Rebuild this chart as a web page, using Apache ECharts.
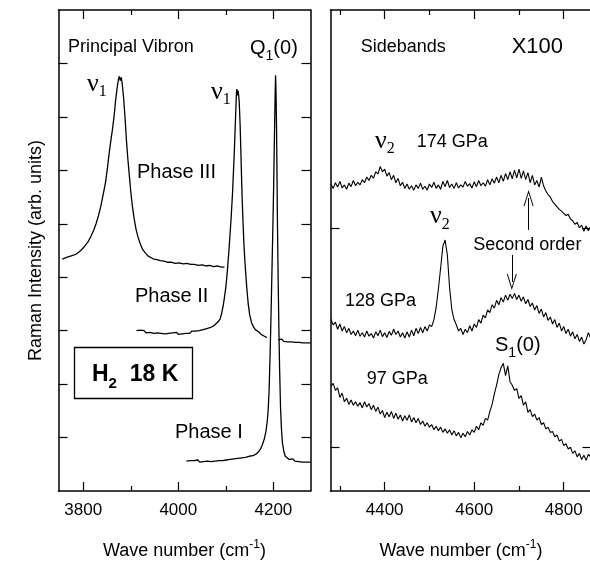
<!DOCTYPE html>
<html><head><meta charset="utf-8">
<script src="https://cdn.jsdelivr.net/npm/echarts@6/dist/echarts.min.js"></script>
<style>html,body{margin:0;padding:0;background:#fff}#c{width:590px;height:561px}</style>
</head><body><div id="c"></div><script>
// ---------- DATA ----------
const leftRange = [3748, 4278];
const rightRange = [4279, 4862];
const leftTicksMajor = [3800, 4000, 4200];
const leftTicksMinor = [3900, 4100];
const rightTicksMajor = [4400, 4600, 4800];
const rightTicksMinor = [4300, 4500, 4700];
const leftYTicks = [1, 2, 3, 4, 5, 6, 7, 8];
const rightYTicks = [1, 6];

const phase3 = [[3756,4.34],[3765,4.37],[3775,4.40],[3785,4.43],[3795,4.50],[3803,4.58],[3810,4.66],[3816,4.76],[3822,4.88],[3827,5.00],[3832,5.15],[3837,5.33],[3842,5.55],[3847,5.78],[3851,6.05],[3855,6.35],[3858,6.55],[3862,6.80],[3865,7.02],[3868,7.30],[3871,7.52],[3874,7.70],[3876,7.76],[3878,7.68],[3880,7.74],[3882,7.62],[3885,7.35],[3888,6.98],[3891,6.55],[3894,6.20],[3897,5.90],[3900,5.60],[3903,5.36],[3907,5.10],[3911,4.90],[3915,4.76],[3920,4.62],[3925,4.52],[3930,4.46],[3936,4.40],[3942,4.37],[3948,4.34],[3955,4.33],[3962,4.31],[3970,4.30],[3978,4.28],[3986,4.28],[3994,4.26],[4002,4.27],[4010,4.25],[4018,4.26],[4026,4.24],[4034,4.24],[4042,4.22],[4050,4.23],[4058,4.21],[4066,4.22],[4074,4.20],[4082,4.21],[4090,4.19],[4097,4.19]];

const phase2 = [[3912,3.00],[3916,2.97],[3920,3.01],[3924,2.98],[3928,3.00],[3932,2.96],[3936,2.99],[3940,2.97],[3944,3.00],[3948,2.95],[3952,2.98],[3956,2.96],[3960,2.99],[3964,2.95],[3968,2.97],[3972,2.94],[3976,2.97],[3980,2.95],[3984,2.93],[3988,2.96],[3992,2.94],[3996,2.97],[4000,2.93],[4004,2.96],[4008,2.94],[4012,2.97],[4016,2.95],[4020,2.98],[4024,2.95],[4028,2.99],[4032,2.96],[4036,2.99],[4040,2.97],[4044,3.00],[4048,2.98],[4052,3.02],[4056,3.00],[4060,3.04],[4064,3.03],[4068,3.06],[4072,3.05],[4076,3.10],[4080,3.12],[4084,3.17],[4088,3.22],[4091,3.32],[4094,3.45],[4097,3.62],[4100,3.82],[4103,4.10],[4106,4.45],[4108,4.70],[4111,5.10],[4114,5.57],[4116,5.98],[4118,6.40],[4120,6.90],[4122,7.40],[4123,7.52],[4125,7.40],[4126,7.49],[4128,7.30],[4130,6.85],[4132,6.20],[4134,5.55],[4136,5.05],[4138,4.62],[4140,4.30],[4142,4.05],[4144,3.80],[4147,3.50],[4150,3.30],[4154,3.15],[4158,3.07],[4162,3.02],[4166,2.99],[4170,2.97],[4174,2.93],[4178,2.94],[4182,2.89],[4186,2.87],[4198,'-'],[4210,2.83],[4214,2.80],[4218,2.84],[4222,2.80],[4226,2.83],[4230,2.79],[4234,2.82],[4238,2.79],[4242,2.81],[4246,2.78],[4250,2.81],[4254,2.78],[4258,2.80],[4262,2.77],[4266,2.80],[4270,2.77],[4274,2.79],[4278,2.77]];

const phase1 = [[4017,0.56],[4021,0.53],[4025,0.57],[4029,0.54],[4033,0.57],[4037,0.55],[4041,0.58],[4045,0.54],[4049,0.57],[4053,0.55],[4057,0.58],[4061,0.56],[4065,0.59],[4069,0.55],[4073,0.58],[4077,0.56],[4081,0.59],[4085,0.57],[4089,0.60],[4093,0.57],[4097,0.60],[4101,0.58],[4105,0.61],[4109,0.59],[4113,0.62],[4117,0.60],[4121,0.63],[4125,0.61],[4129,0.64],[4133,0.62],[4137,0.65],[4141,0.63],[4145,0.66],[4149,0.65],[4153,0.67],[4157,0.66],[4161,0.68],[4165,0.70],[4169,0.74],[4173,0.79],[4177,0.87],[4181,0.98],[4184,1.10],[4187,1.30],[4189,1.52],[4191,1.90],[4193,2.55],[4195,3.30],[4197,4.15],[4199,5.00],[4200.5,5.70],[4202,6.55],[4203.5,7.35],[4204.5,7.78],[4205.5,7.45],[4206.5,6.85],[4207.5,5.95],[4208.5,5.00],[4210,3.95],[4211.5,3.05],[4213,2.30],[4215,1.55],[4217,1.15],[4219,0.90],[4222,0.74],[4225,0.65],[4229,0.62],[4233,0.59],[4237,0.57],[4241,0.60],[4245,0.56],[4249,0.58],[4253,0.55],[4257,0.57],[4261,0.54],[4265,0.57],[4269,0.54],[4273,0.56],[4278,0.54]];

const sideX = [4280,4285,4290,4295,4300,4305,4310,4315,4320,4325,4330,4335,4340,4345,4350,4355,4360,4365,4370,4375,4380,4385,4390,4395,4400,4405,4410,4415,4420,4425,4430,4435,4440,4445,4450,4455,4460,4465,4470,4475,4480,4485,4490,4495,4500,4505,4510,4515,4520,4525,4530,4535,4540,4545,4550,4555,4560,4565,4570,4575,4580,4585,4590,4595,4600,4605,4610,4615,4620,4625,4630,4635,4640,4645,4650,4655,4660,4665,4670,4675,4680,4685,4690,4695,4700,4705,4710,4715,4720,4725,4730,4735,4740,4745,4750,4755,4760,4765,4770,4775,4780,4785,4790,4795,4800,4805,4810,4815,4820,4825,4830,4835,4840,4845,4850,4855,4860];

const gpa174 = [7.02,6.92,7.05,6.95,7.08,6.93,7.00,6.90,7.04,6.96,7.10,6.98,7.06,7.00,7.12,7.05,7.18,7.10,7.22,7.15,7.30,7.25,7.42,7.30,7.36,7.20,7.28,7.12,7.22,7.05,7.15,6.98,7.06,6.92,7.02,6.90,6.98,6.88,7.00,6.92,7.04,6.90,6.97,6.88,7.02,6.94,7.06,6.92,7.00,6.90,7.08,6.96,7.10,6.94,7.02,6.92,7.05,6.93,7.00,6.95,7.08,6.97,7.03,6.93,7.07,6.96,7.10,6.98,7.05,6.97,7.12,7.00,7.14,7.04,7.18,7.05,7.22,7.08,7.26,7.12,7.30,7.14,7.34,7.16,7.36,7.15,7.32,7.12,7.28,7.05,7.22,7.00,7.10,6.95,7.18,6.98,6.86,6.78,6.72,6.62,6.56,6.50,6.44,6.40,6.35,6.30,6.33,6.22,6.18,6.10,6.14,6.02,6.08,5.94,6.06,5.95,6.05];

const gpa128 = [3.92,3.80,3.86,3.70,3.82,3.66,3.76,3.62,3.72,3.58,3.66,3.55,3.68,3.54,3.62,3.52,3.66,3.54,3.60,3.50,3.64,3.55,3.68,3.53,3.62,3.51,3.65,3.56,3.70,3.58,3.66,3.52,3.62,3.50,3.64,3.52,3.68,3.55,3.72,3.60,3.74,3.62,3.76,3.66,3.80,3.76,3.92,4.20,4.62,5.10,5.60,5.74,5.40,4.65,4.15,3.92,3.80,3.66,3.72,3.58,3.70,3.62,3.78,3.66,3.82,3.74,3.92,3.84,4.02,3.96,4.14,4.08,4.26,4.18,4.36,4.26,4.42,4.32,4.48,4.36,4.50,4.40,4.52,4.38,4.48,4.34,4.44,4.28,4.38,4.22,4.30,4.14,4.24,4.06,4.16,3.98,4.08,3.90,3.98,3.82,3.92,3.74,3.84,3.66,3.76,3.60,3.70,3.54,3.64,3.48,3.58,3.42,3.52,3.36,3.46,3.62,3.50];

const gpa97 = [2.40,2.46,2.30,2.36,2.14,2.24,2.04,2.12,1.98,2.08,1.96,2.04,1.94,2.02,1.90,2.04,1.92,2.00,1.86,1.96,1.82,1.92,1.76,1.84,1.68,1.80,1.70,1.82,1.66,1.78,1.64,1.74,1.60,1.72,1.62,1.74,1.58,1.68,1.56,1.66,1.52,1.60,1.48,1.56,1.46,1.52,1.40,1.48,1.38,1.46,1.34,1.42,1.32,1.40,1.28,1.38,1.26,1.34,1.22,1.32,1.24,1.36,1.28,1.40,1.34,1.48,1.40,1.56,1.50,1.66,1.62,1.82,1.98,2.22,2.42,2.66,2.82,2.92,2.64,2.86,2.50,2.42,2.30,2.34,2.12,2.18,1.96,2.04,1.80,1.86,1.70,1.76,1.62,1.68,1.52,1.56,1.42,1.46,1.34,1.36,1.24,1.28,1.14,1.18,1.04,1.08,0.96,1.00,0.86,0.92,0.78,0.86,0.72,0.82,0.70,0.84,0.78];

// arrows "Second order": [wavenumber, y start, y end]
const arrow174 = [4721.5, 5.97, 6.70];
const arrow128 = [4684, 5.40, 4.78];

// ---------- CHART ----------
const chart = echarts.init(document.getElementById('c'), null, {renderer: 'canvas'});
const BLACK = '#000';
const SANS = 'Liberation Sans';
const SERIF = 'Liberation Serif';

const axisLineStyle = {color: BLACK, width: 1.5};
const tickStyle = {color: BLACK, width: 1.2};

function xAxesFor(grid, range, major, minor) {
  const base = {
    type: 'value', gridIndex: grid, min: range[0], max: range[1],
    splitLine: {show: false},
    axisLine: {show: true, onZero: false, lineStyle: axisLineStyle},
    axisTick: {show: true, inside: true, length: 9, lineStyle: tickStyle, customValues: major},
    axisLabel: {show: false}
  };
  const minorTick = {show: true, inside: true, length: 5, lineStyle: tickStyle, customValues: minor};
  return [
    Object.assign({}, base, {
      position: 'bottom',
      axisLabel: {show: true, customValues: major, margin: 11, color: BLACK, fontSize: 17, fontFamily: SANS,
        formatter: v => String(v)},
      name: '{a|Wave number (cm}{s|-1}{a|)}',
      nameLocation: 'middle', nameGap: 48,
      nameTextStyle: {rich: {
        a: {fontSize: 18, fontFamily: SANS, color: BLACK, lineHeight: 24},
        s: {fontSize: 12, fontFamily: SANS, color: BLACK, lineHeight: 12, verticalAlign: 'top'}
      }}
    }),
    Object.assign({}, base, {position: 'bottom', axisLine: {show: false, onZero: false}, axisTick: minorTick}),
    Object.assign({}, base, {position: 'top'}),
    Object.assign({}, base, {position: 'top', axisLine: {show: false, onZero: false}, axisTick: minorTick})
  ];
}

function yAxesFor(grid, min, max, ticks, withName) {
  const base = {
    type: 'value', gridIndex: grid, min: min, max: max,
    splitLine: {show: false},
    axisLine: {show: true, onZero: false, lineStyle: axisLineStyle},
    axisTick: {show: true, inside: true, length: 9, lineStyle: tickStyle, customValues: ticks},
    axisLabel: {show: false}
  };
  const left = Object.assign({}, base, {position: 'left'});
  if (withName) {
    Object.assign(left, {
      name: 'Raman Intensity (arb. units)', nameLocation: 'middle', nameGap: 13, nameRotate: 90,
      nameTextStyle: {fontSize: 18, fontFamily: SANS, color: BLACK}
    });
  }
  return [left, Object.assign({}, base, {position: 'right'})];
}

function lineSeries(data, xi, yi, width, extra) {
  return Object.assign({
    type: 'line', xAxisIndex: xi, yAxisIndex: yi, data: data,
    showSymbol: false, symbol: 'none', connectNulls: false,
    lineStyle: {color: BLACK, width: width}, silent: true, animation: false
  }, extra || {});
}

const arrowPath = 'path://M8,0 L13,16 L12,16 L8,3 L4,16 L3,16 Z M0,0 L0.01,0 Z M16,16 L15.99,16 Z';
function arrowMark(a) {
  return {
    silent: true, animation: false, symbol: ['none', arrowPath], symbolSize: 16,
    label: {show: false}, emphasis: {disabled: true},
    lineStyle: {color: BLACK, width: 1, type: 'solid'},
    data: [[{coord: [a[0], a[1]]}, {coord: [a[0], a[2]]}]]
  };
}

const zip = ys => sideX.map((x, i) => [x, ys[i]]);

// text helpers
function txt(x, y, text, size, extra) {
  return {type: 'text', x: x, y: y, silent: true,
    style: Object.assign({text: text, fill: BLACK, fontSize: size, fontFamily: SANS,
      align: 'left', verticalAlign: 'middle'}, extra || {})};
}
function nuLabel(x, y, sub) {
  return {type: 'text', x: x, y: y, silent: true,
    style: {text: '{n|ν}{s|' + sub + '}', fill: BLACK, align: 'left', verticalAlign: 'middle',
      rich: {n: {fontFamily: SERIF, fontSize: 26, lineHeight: 32, fill: BLACK},
             s: {fontFamily: SERIF, fontSize: 16, lineHeight: 16, verticalAlign: 'bottom', fill: BLACK}}}};
}
function subLabel(x, y, main, sub, tail, size) {
  return {type: 'text', x: x, y: y, silent: true,
    style: {text: '{m|' + main + '}{s|' + sub + '}{m|' + tail + '}', fill: BLACK, align: 'left', verticalAlign: 'middle',
      rich: {m: {fontFamily: SANS, fontSize: size, lineHeight: 30, fill: BLACK},
             s: {fontFamily: SANS, fontSize: 14, lineHeight: 14, verticalAlign: 'bottom', fill: BLACK}}}};
}

const option = {
  backgroundColor: '#fff',
  animation: false,
  grid: [
    {left: 58.5, top: 10, width: 252, height: 481, outerBoundsMode: 'none', containLabel: false},
    {left: 330.5, top: 10, width: 261, height: 481, outerBoundsMode: 'none', containLabel: false}
  ],
  xAxis: [].concat(
    xAxesFor(0, leftRange, leftTicksMajor, leftTicksMinor),
    xAxesFor(1, rightRange, rightTicksMajor, rightTicksMinor)
  ),
  yAxis: [].concat(
    yAxesFor(0, 0, 9, leftYTicks, true),
    yAxesFor(1, 0, 11, rightYTicks, false)
  ),
  series: [
    lineSeries(phase3, 0, 0, 1.3),
    lineSeries(phase2, 0, 0, 1.3),
    lineSeries(phase1, 0, 0, 1.3),
    lineSeries(zip(gpa174), 4, 2, 1.1, {markLine: arrowMark(arrow174)}),
    lineSeries(zip(gpa128), 4, 2, 1.1, {markLine: arrowMark(arrow128)}),
    lineSeries(zip(gpa97), 4, 2, 1.1)
  ],
  graphic: [
    txt(68, 47, 'Principal Vibron', 18),
    subLabel(250, 48, 'Q', '1', '(0)', 20),
    nuLabel(87, 84, '1'),
    nuLabel(211, 92, '1'),
    txt(137, 172, 'Phase III', 20),
    txt(135, 296, 'Phase II', 20),
    txt(175, 432.5, 'Phase I', 20),
    {type: 'rect', silent: true, shape: {x: 74.5, y: 347.5, width: 118, height: 51},
     style: {fill: 'none', stroke: BLACK, lineWidth: 1.3}},
    {type: 'text', x: 92, y: 375, silent: true,
     style: {text: '{b|H}{s|2}{b|  18 K}', fill: BLACK, align: 'left', verticalAlign: 'middle',
       rich: {b: {fontFamily: SANS, fontWeight: 'bold', fontSize: 23, lineHeight: 32, fill: BLACK},
              s: {fontFamily: SANS, fontWeight: 'bold', fontSize: 15, lineHeight: 15, verticalAlign: 'bottom', fill: BLACK}}}},
    txt(360.7, 47, 'Sidebands', 18),
    txt(511.7, 47, 'X100', 22),
    nuLabel(375, 141, '2'),
    txt(416.7, 142.5, '174 GPa', 18),
    nuLabel(430, 216.5, '2'),
    txt(473.3, 245.5, 'Second order', 18),
    txt(345, 300.8, '128 GPa', 18),
    subLabel(495, 345.5, 'S', '1', '(0)', 20),
    txt(366.7, 379, '97 GPa', 18)
  ]
};
chart.setOption(option);
</script></body></html>
